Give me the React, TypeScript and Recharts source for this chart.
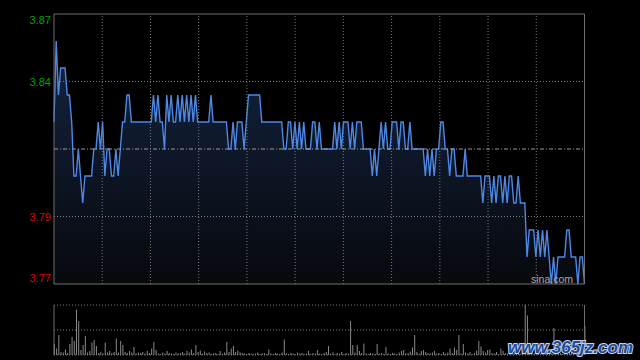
import React from 'react';
import { ComposedChart, Area, XAxis, YAxis, ReferenceLine, Bar } from 'recharts';

// minute-by-minute price (241 points, 09:30-15:00)
const prices: number[] = [
  3.83, 3.86, 3.84, 3.85, 3.85, 3.85, 3.84, 3.84, 3.83, 3.81,
  3.81, 3.82, 3.81, 3.80, 3.81, 3.81, 3.81, 3.81, 3.82, 3.82,
  3.83, 3.82, 3.83, 3.81, 3.82, 3.82, 3.81, 3.81, 3.82, 3.81,
  3.82, 3.83, 3.83, 3.84, 3.84, 3.83, 3.83, 3.83, 3.83, 3.83,
  3.83, 3.83, 3.83, 3.83, 3.83, 3.84, 3.83, 3.84, 3.83, 3.83,
  3.82, 3.84, 3.83, 3.84, 3.83, 3.83, 3.84, 3.83, 3.84, 3.83,
  3.84, 3.83, 3.84, 3.83, 3.84, 3.83, 3.83, 3.83, 3.83, 3.83,
  3.83, 3.84, 3.83, 3.83, 3.83, 3.83, 3.83, 3.83, 3.83, 3.82,
  3.82, 3.83, 3.82, 3.83, 3.83, 3.83, 3.82, 3.83, 3.84, 3.84,
  3.84, 3.84, 3.84, 3.84, 3.83, 3.83, 3.83, 3.83, 3.83, 3.83,
  3.83, 3.83, 3.83, 3.83, 3.82, 3.82, 3.83, 3.83, 3.82, 3.83,
  3.82, 3.83, 3.82, 3.83, 3.82, 3.82, 3.82, 3.83, 3.83, 3.82,
  3.83, 3.82, 3.82, 3.82, 3.82, 3.82, 3.82, 3.83, 3.82, 3.83,
  3.82, 3.83, 3.83, 3.83, 3.82, 3.83, 3.82, 3.83, 3.83, 3.83,
  3.82, 3.82, 3.82, 3.82, 3.81, 3.82, 3.81, 3.82, 3.83, 3.82,
  3.83, 3.82, 3.82, 3.83, 3.83, 3.83, 3.82, 3.83, 3.83, 3.82,
  3.82, 3.83, 3.82, 3.82, 3.82, 3.82, 3.82, 3.82, 3.81, 3.82,
  3.81, 3.82, 3.81, 3.82, 3.82, 3.83, 3.83, 3.82, 3.82, 3.81,
  3.82, 3.82, 3.81, 3.81, 3.81, 3.81, 3.82, 3.81, 3.81, 3.81,
  3.81, 3.81, 3.81, 3.81, 3.80, 3.81, 3.81, 3.81, 3.80, 3.81,
  3.80, 3.81, 3.81, 3.80, 3.81, 3.80, 3.81, 3.81, 3.80, 3.80,
  3.81, 3.80, 3.80, 3.80, 3.78, 3.79, 3.79, 3.79, 3.78, 3.79,
  3.78, 3.79, 3.78, 3.79, 3.78, 3.77, 3.78, 3.77, 3.78, 3.78,
  3.78, 3.78, 3.79, 3.79, 3.78, 3.78, 3.78, 3.77, 3.78, 3.78,
  3.77,
];

// relative volume per minute (max = 100)
const volumes: number[] = [
  22, 13, 40, 6, 5, 11, 4, 22, 36, 28, 91, 68, 10, 20, 38, 5, 8, 25, 30, 18,
  4, 6, 3, 25, 5, 8, 4, 6, 33, 5, 28, 20, 6, 4, 8, 5, 16, 3, 5, 4,
  6, 3, 8, 4, 13, 26, 10, 3, 2, 5, 3, 8, 4, 3, 2, 5, 3, 4, 6, 3,
  8, 5, 11, 4, 20, 6, 9, 3, 7, 4, 5, 2, 3, 4, 2, 8, 3, 5, 26, 6,
  13, 18, 6, 9, 5, 4, 3, 2, 4, 3, 2, 3, 5, 2, 3, 4, 2, 11, 3, 2,
  4, 3, 2, 5, 31, 3, 2, 4, 3, 2, 5, 3, 4, 2, 3, 8, 2, 4, 3, 10,
  3, 2, 4, 6, 18, 3, 5, 2, 4, 3, 6, 2, 4, 3, 68, 20, 5, 20, 8, 4,
  23, 3, 2, 4, 3, 2, 22, 3, 4, 2, 16, 3, 2, 4, 3, 2, 5, 8, 10, 3,
  4, 7, 15, 40, 6, 3, 8, 10, 6, 4, 3, 5, 8, 3, 4, 2, 6, 3, 5, 13,
  4, 15, 10, 40, 3, 22, 5, 3, 6, 2, 4, 9, 28, 17, 8, 5, 10, 11, 4, 3,
  6, 2, 13, 8, 4, 3, 2, 4, 3, 5, 2, 3, 6, 100, 79, 8, 5, 3, 6, 4,
  3, 5, 2, 4, 6, 3, 54, 5, 3, 4, 2, 6, 3, 8, 4, 2, 5, 3, 4, 6,
  58,
];

const minPrice = 3.77;
const maxPrice = 3.87;
const prevClose = 3.82;
const priceTicks = [3.87, 3.845, 3.795, 3.77];
const priceTickLabels = ['3.87', '3.84', '3.79', '3.77'];
const pctTickLabels = ['+1.31%', '+0.65%', '-0.65%', '-1.31%'];
const tickColors = ['#00a000', '#00a000', '#e00000', '#e00000'];
const timeGrid = [1, 2, 3, 4, 5, 6, 7, 8, 9, 10].map((k) => (k * 240) / 11);

const data = prices.map((p, i) => ({ i, price: p, vol: volumes[i] }));

const FONT = '"Liberation Sans", Arial, sans-serif';

const tickIndex = (v: number) => {
  let best = 0;
  priceTicks.forEach((t, k) => {
    if (Math.abs(t - v) < Math.abs(priceTicks[best] - v)) best = k;
  });
  return best;
};
const tickDy = (k: number) => (k === 0 ? 10 : k === 3 ? -2 : 4);

const LeftTick = (props: any) => {
  const { y, payload } = props;
  const k = tickIndex(payload.value);
  return (
    <text x={51} y={y + tickDy(k)} textAnchor="end" fill={tickColors[k]} fontSize={11} fontFamily={FONT}>
      {priceTickLabels[k]}
    </text>
  );
};

const RightTick = (props: any) => {
  const { y, payload } = props;
  const k = tickIndex(payload.value);
  return (
    <text x={590} y={y + tickDy(k)} textAnchor="start" fill={tickColors[k]} fontSize={11} fontFamily={FONT}>
      {pctTickLabels[k]}
    </text>
  );
};

const GRID = '#7a7a7a';
const BORDER = '#6e6e6e';

export default function App() {
  return (
    <div style={{ position: 'absolute', left: 0, top: 0, width: 640, height: 360, background: '#000', overflow: 'hidden' }}>
      <div style={{ position: 'absolute', left: 0, top: 0 }}>
        <ComposedChart width={640} height={300} data={data} margin={{ top: 14, right: 0, bottom: 16, left: 0 }}>
          <defs>
            <linearGradient id="priceFill" x1="0" y1="0" x2="0" y2="1">
              <stop offset="0%" stopColor="#142440" stopOpacity={1} />
              <stop offset="100%" stopColor="#07090d" stopOpacity={1} />
            </linearGradient>
          </defs>
          <XAxis dataKey="i" type="number" domain={[0, 240]} hide />
          <YAxis
            type="number"
            domain={[minPrice, maxPrice]}
            ticks={priceTicks}
            interval={0}
            width={54}
            axisLine={false}
            tickLine={false}
            tick={<LeftTick />}
          />
          <YAxis
            yAxisId="r"
            orientation="right"
            type="number"
            domain={[minPrice, maxPrice]}
            ticks={priceTicks}
            interval={0}
            width={55.5}
            axisLine={false}
            tickLine={false}
            tick={<RightTick />}
          />
          <Area
            type="linear"
            dataKey="price"
            stroke="#4d88e6"
            strokeWidth={1.4}
            fill="url(#priceFill)"
            fillOpacity={1}
            isAnimationActive={false}
            dot={false}
            activeDot={false}
          />
          {timeGrid.map((x) => (
            <ReferenceLine key={'v' + x} x={x} stroke={GRID} strokeDasharray="1 2" />
          ))}
          <ReferenceLine y={3.845} stroke={GRID} strokeDasharray="1 2" />
          <ReferenceLine y={3.795} stroke={GRID} strokeDasharray="1 2" />
          <ReferenceLine y={prevClose} stroke="#9a9a9a" strokeDasharray="4 2 1 2" />
          <ReferenceLine y={maxPrice} stroke={BORDER} />
          <ReferenceLine y={minPrice} stroke={BORDER} />
          <ReferenceLine x={0} stroke={BORDER} />
          <ReferenceLine x={240} stroke={BORDER} />
        </ComposedChart>
      </div>
      <div style={{ position: 'absolute', left: 0, top: 290 }}>
        <ComposedChart width={640} height={70} data={data} margin={{ top: 15, right: 55.5, bottom: 5, left: 54 }}>
          <XAxis dataKey="i" type="number" domain={[0, 240]} hide />
          <YAxis type="number" domain={[0, 100]} hide />
          <Bar dataKey="vol" fill="#8a8a8a" barSize={1} isAnimationActive={false} />
          <ReferenceLine y={100} stroke={GRID} strokeDasharray="1 2" />
          <ReferenceLine y={50} stroke={GRID} strokeDasharray="1 2" />
          <ReferenceLine y={0} stroke={GRID} strokeDasharray="1 2" />
          <ReferenceLine x={0} stroke={BORDER} />
          <ReferenceLine x={240} stroke={BORDER} />
        </ComposedChart>
      </div>
      <svg width={640} height={360} style={{ position: 'absolute', left: 0, top: 0, pointerEvents: 'none' }}>
        <text x={573} y={283} textAnchor="end" fill="#a8a8a8" fontSize={10.5} fontFamily={FONT}>
          sina.com
        </text>
        <text
          x={633}
          y={353}
          textAnchor="end"
          fill="#1d4c9e"
          stroke="#c9d3e6"
          strokeWidth={2}
          paintOrder="stroke"
          fontSize={17}
          fontWeight="bold"
          fontStyle="italic"
          fontFamily={FONT}
        >
          www.365jz.com
        </text>
      </svg>
    </div>
  );
}
